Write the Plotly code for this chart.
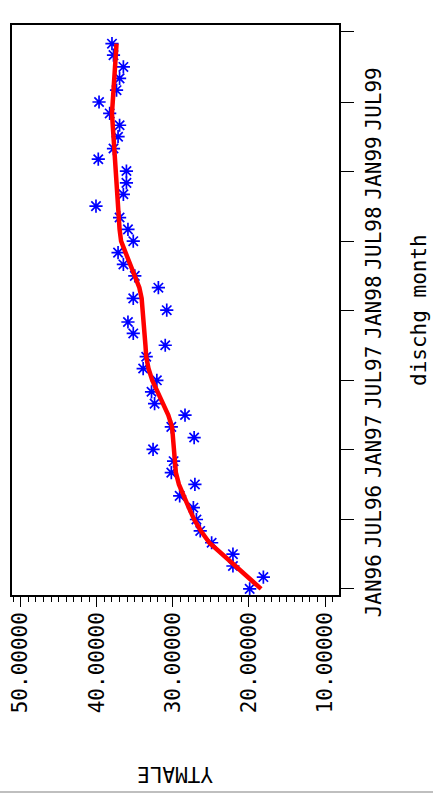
import pandas as pd
import plotly.graph_objects as go

# ---- data ----
months = pd.date_range("1996-01-01", periods=48, freq="MS")
ytmale = [19.9, 18.1, 22.1, 22.1, 24.9, 26.4, 26.9, 27.3, 29.1, 27.1, 30.2, 29.9,
          32.6, 27.2, 30.2, 28.4, 32.4, 32.8, 32.1, 33.9, 33.5, 31.0, 35.2, 35.9,
          30.8, 35.2, 31.9, 35.0, 36.5, 37.2, 35.2, 35.9, 37.0, 40.1, 36.5, 36.1,
          36.1, 39.8, 37.8, 37.2, 37.0, 38.3, 39.7, 37.4, 37.0, 36.5, 37.8, 38.0]
smooth = [18.4, 20.2, 21.8, 23.5, 25.2, 26.3, 27.2, 27.9, 28.6, 29.2, 29.6, 29.7,
          29.8, 29.9, 30.1, 30.6, 31.3, 31.9, 32.7, 33.2, 33.5, 33.6, 33.7, 33.8,
          33.9, 34.1, 34.4, 35.0, 35.6, 36.3, 36.8, 37.0, 37.1, 37.2, 37.3, 37.4,
          37.5, 37.6, 37.7, 37.8, 38.0, 38.0, 37.9, 37.8, 37.6, 37.5, 37.5, 37.4]
date_ticks = ["1996-01-01", "1996-07-01", "1997-01-01", "1997-07-01", "1998-01-01",
              "1998-07-01", "1999-01-01", "1999-07-01", "2000-01-01"]
date_labels = ["JAN96", "JUL96", "JAN97", "JUL97", "JAN98", "JUL98", "JAN99", "JUL99", "JAN00"]
value_ticks = [50, 40, 30, 20, 10]
value_labels = ["50.00000", "40.00000", "30.00000", "20.00000", "10.00000"]

FONT = "DejaVu Sans Mono"

fig = go.Figure()
fig.add_trace(go.Scatter(
    x=ytmale, y=months, mode="markers",
    marker=dict(symbol="asterisk-open", size=11, color="#0000ff",
                line=dict(color="#0000ff", width=1.7)),
    showlegend=False))
fig.add_trace(go.Scatter(
    x=smooth, y=months, mode="lines",
    line=dict(color="#ff0000", width=4.5), showlegend=False))

fig.update_layout(
    width=433, height=794,
    margin=dict(l=12, r=94, t=25, b=199),
    plot_bgcolor="white", paper_bgcolor="white",
    font=dict(family=FONT, size=21, color="black"),
    xaxis=dict(
        range=[51.14, 8.16], side="bottom", automargin=False,
        tickvals=value_ticks, ticktext=value_labels, tickangle=-90,
        ticks="outside", ticklen=10, tickwidth=1, tickcolor="black",
        ticklabelstandoff=-3,
        minor=dict(dtick=1, ticks="outside", ticklen=5, tickwidth=1, tickcolor="black"),
        showline=True, linecolor="black", linewidth=1.5, mirror=True,
        showgrid=False, zeroline=False,
        tickfont=dict(family=FONT, size=21, color="black")),
    yaxis=dict(
        range=["1995-12-16", "2000-01-19"], side="right", automargin=False,
        tickvals=date_ticks, ticktext=date_labels, tickangle=-90,
        ticks="outside", ticklen=13, tickwidth=1, tickcolor="black",
        ticklabelstandoff=2,
        showline=True, linecolor="black", linewidth=1.5, mirror=True,
        showgrid=False, zeroline=False,
        tickfont=dict(family=FONT, size=21, color="black")),
    annotations=[
        dict(text="YTMALE", xref="paper", yref="paper", x=0.5, y=-179/570,
             xanchor="center", yanchor="middle", textangle=180, showarrow=False,
             font=dict(family=FONT, size=21, color="black")),
        dict(text="dischg month", xref="paper", yref="paper", x=(419-12)/327, y=0.5,
             xanchor="center", yanchor="middle", textangle=-90, showarrow=False,
             font=dict(family=FONT, size=21, color="black")),
    ],
    shapes=[dict(type="line", xref="paper", yref="paper",
                 x0=-12/327, x1=421/327, y0=-197/570, y1=-197/570,
                 line=dict(color="#aaaaaa", width=1.5))],
)

fig.write_html("out.html",
               config={"displayModeBar": False},
               post_script="document.body.style.margin='0';document.body.style.overflow='hidden';")
